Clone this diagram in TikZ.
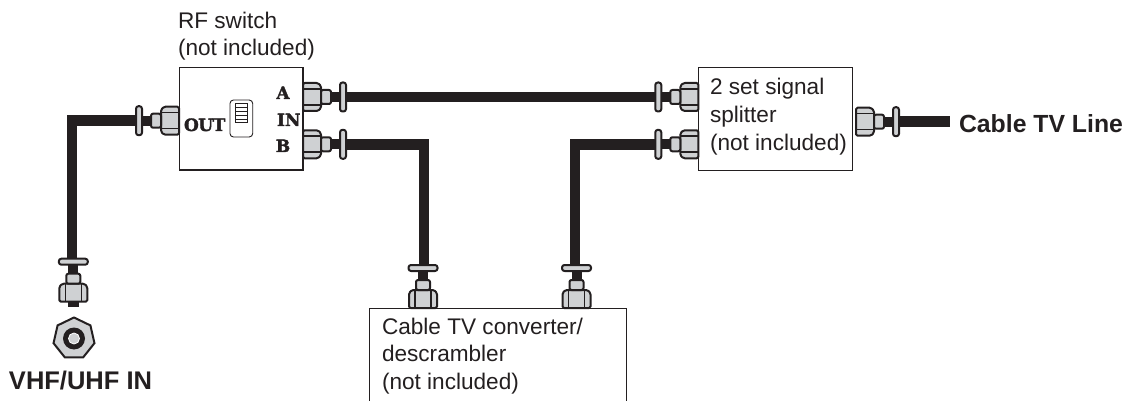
\documentclass[tikz,border=0pt]{standalone}
\usepackage{fontspec}
\usetikzlibrary{shapes.geometric}
\setmainfont{Liberation Sans}
\newfontfamily\slabfont[BoldFeatures={FakeBold=2}]{DejaVu Serif}
\definecolor{ink}{HTML}{231F20}
\definecolor{steel}{HTML}{CFD1D3}
\tikzset{
  x=1pt,y=-1pt,
  boxstyle/.style={draw=ink,line width=1.4pt,fill=white,inner sep=0pt,outer sep=0pt},
  cable/.style={draw=ink,line width=10.5pt,line cap=butt,line join=miter},
  metal/.style={draw=ink,fill=steel,line width=2pt,line join=round},
  lbl/.style={inner sep=0pt,outer sep=0pt,text=ink,font=\fontsize{22.6}{27.5}\selectfont,align=left},
  blbl/.style={inner sep=0pt,outer sep=0pt,text=ink,font=\fontsize{24.8}{27.5}\selectfont\bfseries},
  port/.style={inner sep=0pt,outer sep=0pt,text=ink,font=\slabfont\fontsize{17}{17}\selectfont\bfseries},
  plug/.pic={
    \fill[ink] (18,-5) rectangle (40,5);
    \draw[metal,rounded corners=1.5pt] (0,-14) -- (15,-14) -- (18,-11) -- (18,11) -- (15,14) -- (0,14) -- cycle;
    \draw[ink,line width=1.6pt] (0,-8) -- (17.5,-8) (0,8) -- (17.5,8);
    \draw[metal,rounded corners=2pt] (18,-7) rectangle (28,7);
    \draw[metal,rounded corners=2.5pt] (37,-14.5) rectangle (43,14.5);
  }
}
\begin{document}
\begin{tikzpicture}
\useasboundingbox (0,0) rectangle (1130,401);

% cables
\coordinate (outEnd) at (136,120.7);
\coordinate (outDrop) at (72,258);
\coordinate (aEnd) at (345,97);
\coordinate (spA) at (658,97);
\coordinate (bEnd) at (345,144.3);
\coordinate (cvA) at (424,265);
\coordinate (spB) at (658,144.3);
\coordinate (cvB) at (575,265);
\coordinate (lineStart) at (896,121.7);
\coordinate (lineEnd) at (950,121.7);

\draw[cable] (outEnd) -| (outDrop);
\draw[cable] (aEnd) -- (spA);
\draw[cable] (bEnd) -| (cvA);
\draw[cable] (spB) -| (cvB);
\draw[cable] (lineStart) -- (lineEnd);

% RF switch
\node[boxstyle,anchor=north west,minimum width=123.5pt,minimum height=102.5pt] (rf) at (179.5,67.5) {};
\node[lbl,anchor=base west] (rfa) at (178,29) {RF switch};
\node[lbl,anchor=base west] (rfb) at (178,55.7) {(not included)};
\node[port,anchor=base west] (pout) at (184,131) {O\kern-.5pt U\kern-.5pt T};
\node[port,anchor=base] (pa) at (283,99) {A};
\node[port,anchor=base west] (pin) at (277,126) {IN};
\node[port,anchor=base] (pb) at (283,152) {B};
\draw[ink,line width=.9pt,rounded corners=3.5pt,fill=white] (230,100) rectangle (252.7,137);
\draw[ink,line width=.9pt] (235,103) rectangle (247.7,122.7);
\foreach \yy in {107,111,115,119}{\draw[ink,line width=.9pt] (235,\yy) -- (247.7,\yy);}

% splitter
\node[boxstyle,anchor=north west,minimum width=154.4pt,minimum height=103.4pt] (split) at (698.3,67.3) {};
\node[lbl,anchor=base west] (sp1) at (710,95) {2 set signal};
\node[lbl,anchor=base west] (sp2) at (710,123) {splitter};
\node[lbl,anchor=base west] (sp3) at (710,150) {(not included)};

% converter (runs off the bottom of the picture)
\draw[ink,line width=1.4pt] (369.5,401) |- (626.7,308.7) -- (626.7,401);
\node[lbl,anchor=base west] (cv1) at (382,334) {Cable TV converter/};
\node[lbl,anchor=base west] (cv2) at (382,361.7) {descrambler};
\node[lbl,anchor=base west] (cv3) at (382,389) {(not included)};

% connectors
\pic[rotate=180] at (179,120.7) {plug};
\pic at (303,97) {plug};
\pic at (303,144.3) {plug};
\pic[rotate=180] at (698.3,97) {plug};
\pic[rotate=180] at (698.3,144.3) {plug};
\pic at (856,121.7) {plug};
\pic[rotate=90] at (423,308) {plug};
\pic[rotate=90] at (576.5,308) {plug};

% VHF/UHF end
\fill[ink] (67.7,296) rectangle (79,307);
\pic[rotate=90] at (73.3,301.7) {plug};

\node[draw=ink,line width=2pt,fill=steel,regular polygon,regular polygon sides=7,minimum size=42pt,inner sep=0pt] (jack) at (74,338.5) {};
\fill[ink] (jack.center) circle[radius=11];
\draw[white,line width=.8pt,fill=steel] (jack.center) circle[radius=5.5];
\node[blbl,font=\fontsize{25.5}{27.5}\selectfont\bfseries,anchor=base west] (vhf) at (9,389.5) {VHF/UHF IN};
\node[blbl,anchor=base west] (tvline) at (959,133) {Cable TV Line};
\end{tikzpicture}
\end{document}
